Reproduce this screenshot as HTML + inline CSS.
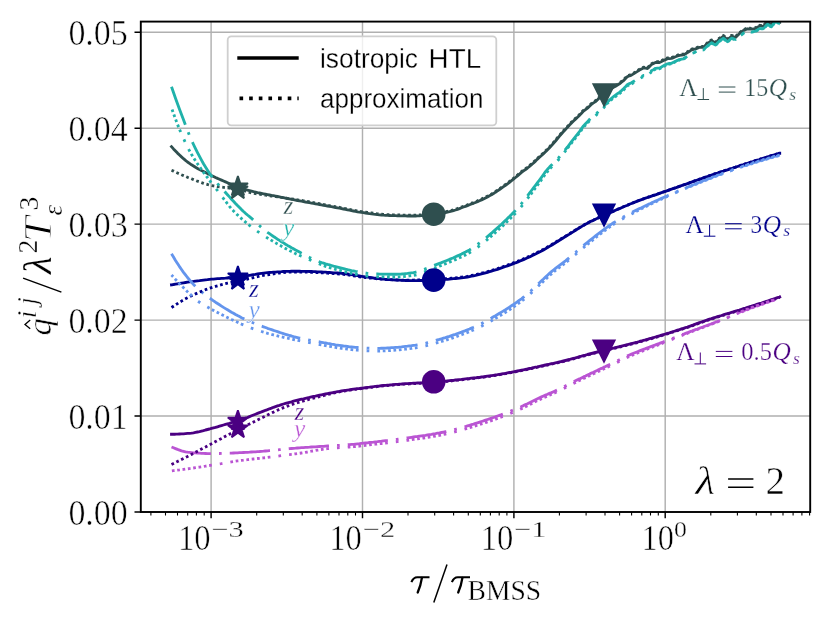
<!DOCTYPE html>
<html><head><meta charset="utf-8"><title>qhat</title>
<style>html,body{margin:0;padding:0;background:#fff;}svg{display:block;will-change:transform;}</style>
</head><body>
<svg width="830" height="623" viewBox="0 0 830 623">
<defs><clipPath id="ax"><rect x="140.8" y="21.6" width="669.4" height="490.4"/></clipPath></defs>
<rect width="830" height="623" fill="#fff"/>
<path d="M211.1,21.6 V512.0 M362.5,21.6 V512.0 M513.9,21.6 V512.0 M665.2,21.6 V512.0 M140.8,416.0 H810.2 M140.8,320.1 H810.2 M140.8,224.1 H810.2 M140.8,128.2 H810.2 M140.8,32.2 H810.2" stroke="#b0b0b0" stroke-width="1.44" fill="none"/>
<g clip-path="url(#ax)" fill="none" stroke-width="2.85" stroke-linecap="butt" stroke-linejoin="round">
<path d="M171.5,434.2 L173.5,434.2 L175.5,434.2 L177.5,434.1 L179.5,434.0 L181.5,433.9 L183.5,433.8 L185.5,433.6 L187.5,433.4 L189.5,433.3 L191.5,433.1 L193.5,432.8 L195.5,432.4 L197.5,432.0 L199.5,431.6 L201.5,431.1 L203.5,430.6 L205.5,430.0 L207.5,429.5 L209.5,429.0 L211.5,428.4 L213.5,427.9 L215.5,427.4 L217.5,426.8 L219.5,426.2 L221.5,425.6 L223.5,425.0 L225.5,424.4 L227.5,423.8 L229.5,423.3 L231.5,422.7 L233.5,422.1 L235.5,421.5 L237.5,420.9 L239.5,420.2 L241.5,419.6 L243.5,418.9 L245.5,418.2 L247.5,417.5 L249.5,416.6 L251.5,415.8 L253.5,415.0 L255.5,414.2 L257.5,413.4 L259.5,412.6 L261.5,411.9 L263.5,411.1 L265.5,410.3 L267.5,409.6 L269.5,408.8 L271.5,408.1 L273.5,407.3 L275.5,406.6 L277.5,405.9 L279.5,405.3 L281.5,404.6 L283.5,404.0 L285.5,403.4 L287.5,402.8 L289.5,402.3 L291.5,401.8 L293.5,401.2 L295.5,400.7 L297.5,400.2 L299.5,399.7 L301.5,399.2 L303.5,398.8 L305.5,398.3 L307.5,397.8 L309.5,397.4 L311.5,396.9 L313.5,396.5 L315.5,396.1 L317.5,395.6 L319.5,395.2 L321.5,394.8 L323.5,394.4 L325.5,394.0 L327.5,393.6 L329.5,393.2 L331.5,392.8 L333.5,392.5 L335.5,392.1 L337.5,391.7 L339.5,391.4 L341.5,391.0 L343.5,390.7 L345.5,390.4 L347.5,390.1 L349.5,389.8 L351.5,389.5 L353.5,389.2 L355.5,388.9 L357.5,388.7 L359.5,388.5 L361.5,388.2 L363.5,388.0 L365.5,387.7 L367.5,387.4 L369.5,387.2 L371.5,386.9 L373.5,386.7 L375.5,386.4 L377.5,386.2 L379.5,386.0 L381.5,385.7 L383.5,385.5 L385.5,385.3 L387.5,385.1 L389.5,385.0 L391.5,384.8 L393.5,384.6 L395.5,384.4 L397.5,384.3 L399.5,384.1 L401.5,384.0 L403.5,383.8 L405.5,383.7 L407.5,383.6 L409.5,383.5 L411.5,383.3 L413.5,383.2 L415.5,383.1 L417.5,383.0 L419.5,382.9 L421.5,382.8 L423.5,382.7 L425.5,382.6 L427.5,382.5 L429.5,382.4 L431.5,382.2 L433.5,382.1 L435.5,382.0 L437.5,381.9 L439.5,381.7 L441.5,381.5 L443.5,381.3 L445.5,381.1 L447.5,380.9 L449.5,380.7 L451.5,380.5 L453.5,380.3 L455.5,380.0 L457.5,379.8 L459.5,379.6 L461.5,379.4 L463.5,379.1 L465.5,378.9 L467.5,378.7 L469.5,378.5 L471.5,378.2 L473.5,378.0 L475.5,377.8 L477.5,377.5 L479.5,377.3 L481.5,377.0 L483.5,376.8 L485.5,376.5 L487.5,376.2 L489.5,375.9 L491.5,375.6 L493.5,375.3 L495.5,375.0 L497.5,374.7 L499.5,374.3 L501.5,374.0 L503.5,373.6 L505.5,373.3 L507.5,372.9 L509.5,372.5 L511.5,372.2 L513.5,371.8 L515.5,371.4 L517.5,371.0 L519.5,370.6 L521.5,370.2 L523.5,369.8 L525.5,369.4 L527.5,369.0 L529.5,368.5 L531.5,368.1 L533.5,367.6 L535.5,367.2 L537.5,366.8 L539.5,366.3 L541.5,365.9 L543.5,365.5 L545.5,365.0 L547.5,364.6 L549.5,364.2 L551.5,363.7 L553.5,363.3 L555.5,362.8 L557.5,362.4 L559.5,361.9 L561.5,361.5 L563.5,361.0 L565.5,360.5 L567.5,360.0 L569.5,359.5 L571.5,358.9 L573.5,358.4 L575.5,357.9 L577.5,357.3 L579.5,356.7 L581.5,356.2 L583.5,355.6 L585.5,355.1 L587.5,354.5 L589.5,354.0 L591.5,353.5 L593.5,353.0 L595.5,352.5 L597.5,352.0 L599.5,351.5 L601.5,351.0 L603.5,350.5 L605.5,350.0 L607.5,349.5 L609.5,349.0 L611.5,348.5 L613.5,348.1 L615.5,347.6 L617.5,347.1 L619.5,346.6 L621.5,346.1 L623.5,345.6 L625.5,345.1 L627.5,344.6 L629.5,344.1 L631.5,343.6 L633.5,343.1 L635.5,342.6 L637.5,342.1 L639.5,341.5 L641.5,341.0 L643.5,340.4 L645.5,339.9 L647.5,339.3 L649.5,338.7 L651.5,338.2 L653.5,337.6 L655.5,337.0 L657.5,336.4 L659.5,335.8 L661.5,335.2 L663.5,334.6 L665.5,334.0 L667.5,333.4 L669.5,332.8 L671.5,332.1 L673.5,331.5 L675.5,330.9 L677.5,330.2 L679.5,329.6 L681.5,328.9 L683.5,328.3 L685.5,327.6 L687.5,327.0 L689.5,326.3 L691.5,325.6 L693.5,324.9 L695.5,324.1 L697.5,323.4 L699.5,322.7 L701.5,322.0 L703.5,321.3 L705.5,320.6 L707.5,319.9 L709.5,319.2 L711.5,318.6 L713.5,317.9 L715.5,317.3 L717.5,316.7 L719.5,316.1 L721.5,315.5 L723.5,314.8 L725.5,314.2 L727.5,313.6 L729.5,313.0 L731.5,312.4 L733.5,311.8 L735.5,311.2 L737.5,310.6 L739.5,310.0 L741.5,309.3 L743.5,308.7 L745.5,308.1 L747.5,307.4 L749.5,306.8 L751.5,306.2 L753.5,305.5 L755.5,304.9 L757.5,304.2 L759.5,303.6 L761.5,303.0 L763.5,302.3 L765.5,301.7 L767.5,301.0 L769.5,300.4 L771.5,299.7 L773.5,299.0 L775.5,298.4 L777.5,297.7 L779.5,297.1 L779.7,297.0" stroke="#4b0082" stroke-linecap="square"/>
<path d="M171.5,447.0 L173.5,447.8 L175.5,448.6 L177.5,449.4 L179.5,450.1 L181.5,450.8 L183.5,451.3 L185.5,451.8 L187.5,452.2 L189.5,452.4 L191.5,452.6 L193.5,452.8 L195.5,452.9 L197.5,453.1 L199.5,453.2 L201.5,453.3 L203.5,453.4 L205.5,453.5 L207.5,453.6 L209.5,453.6 L211.5,453.6 L213.5,453.6 L215.5,453.6 L217.5,453.5 L219.5,453.5 L221.5,453.4 L223.5,453.3 L225.5,453.3 L227.5,453.2 L229.5,453.1 L231.5,453.1 L233.5,453.0 L235.5,452.9 L237.5,452.8 L239.5,452.7 L241.5,452.6 L243.5,452.5 L245.5,452.4 L247.5,452.3 L249.5,452.2 L251.5,452.0 L253.5,451.9 L255.5,451.8 L257.5,451.6 L259.5,451.5 L261.5,451.3 L263.5,451.2 L265.5,451.0 L267.5,450.9 L269.5,450.7 L271.5,450.6 L273.5,450.4 L275.5,450.2 L277.5,449.9 L279.5,449.7 L281.5,449.5 L283.5,449.3 L285.5,449.1 L287.5,448.9 L289.5,448.7 L291.5,448.5 L293.5,448.3 L295.5,448.2 L297.5,448.0 L299.5,447.9 L301.5,447.7 L303.5,447.6 L305.5,447.4 L307.5,447.3 L309.5,447.2 L311.5,447.0 L313.5,446.9 L315.5,446.8 L317.5,446.6 L319.5,446.5 L321.5,446.4 L323.5,446.3 L325.5,446.1 L327.5,446.0 L329.5,445.9 L331.5,445.7 L333.5,445.6 L335.5,445.5 L337.5,445.4 L339.5,445.3 L341.5,445.2 L343.5,445.0 L345.5,444.9 L347.5,444.8 L349.5,444.6 L351.5,444.4 L353.5,444.3 L355.5,444.1 L357.5,443.9 L359.5,443.7 L361.5,443.4 L363.5,443.2 L365.5,443.0 L367.5,442.8 L369.5,442.5 L371.5,442.3 L373.5,442.1 L375.5,441.8 L377.5,441.6 L379.5,441.3 L381.5,441.1 L383.5,440.8 L385.5,440.6 L387.5,440.4 L389.5,440.1 L391.5,439.9 L393.5,439.7 L395.5,439.4 L397.5,439.2 L399.5,438.9 L401.5,438.7 L403.5,438.4 L405.5,438.1 L407.5,437.9 L409.5,437.6 L411.5,437.3 L413.5,437.0 L415.5,436.7 L417.5,436.5 L419.5,436.2 L421.5,435.9 L423.5,435.6 L425.5,435.3 L427.5,434.9 L429.5,434.6 L431.5,434.3 L433.5,433.9 L435.5,433.6 L437.5,433.2 L439.5,432.9 L441.5,432.5 L443.5,432.1 L445.5,431.7 L447.5,431.3 L449.5,430.8 L451.5,430.4 L453.5,429.9 L455.5,429.3 L457.5,428.8 L459.5,428.2 L461.5,427.6 L463.5,427.1 L465.5,426.5 L467.5,425.9 L469.5,425.3 L471.5,424.7 L473.5,424.1 L475.5,423.4 L477.5,422.8 L479.5,422.2 L481.5,421.5 L483.5,420.9 L485.5,420.2 L487.5,419.5 L489.5,418.8 L491.5,418.2 L493.5,417.5 L495.5,416.8 L497.5,416.0 L499.5,415.3 L501.5,414.6 L503.5,413.8 L505.5,413.1 L507.5,412.3 L509.5,411.5 L511.5,410.7 L513.5,409.9 L515.5,409.1 L517.5,408.2 L519.5,407.3 L521.5,406.5 L523.5,405.6 L525.5,404.6 L527.5,403.7 L529.5,402.7 L531.5,401.7 L533.5,400.7 L535.5,399.7 L537.5,398.7 L539.5,397.8 L541.5,396.9 L543.5,396.0 L545.5,395.1 L547.5,394.3 L549.5,393.4 L551.5,392.6 L553.5,391.7 L555.5,390.8 L557.5,389.9 L559.5,389.0 L561.5,388.0 L563.5,387.0 L565.5,385.9 L567.5,384.9 L569.5,383.8 L571.5,382.8 L573.5,381.8 L575.5,380.8 L577.5,379.8 L579.5,378.9 L581.5,377.9 L583.5,376.9 L585.5,376.0 L587.5,375.0 L589.5,374.1 L591.5,373.1 L593.5,372.2 L595.5,371.2 L597.5,370.3 L599.5,369.3 L601.5,368.4 L603.5,367.4 L605.5,366.5 L607.5,365.5 L609.5,364.6 L611.5,363.6 L613.5,362.6 L615.5,361.7 L617.5,360.7 L619.5,359.7 L621.5,358.7 L623.5,357.7 L625.5,356.8 L627.5,355.9 L629.5,355.0 L631.5,354.1 L633.5,353.3 L635.5,352.5 L637.5,351.7 L639.5,350.9 L641.5,350.1 L643.5,349.3 L645.5,348.6 L647.5,347.8 L649.5,347.1 L651.5,346.3 L653.5,345.6 L655.5,344.9 L657.5,344.1 L659.5,343.4 L661.5,342.6 L663.5,341.9 L665.5,341.1 L667.5,340.3 L669.5,339.6 L671.5,338.8 L673.5,338.0 L675.5,337.3 L677.5,336.5 L679.5,335.7 L681.5,334.9 L683.5,334.2 L685.5,333.4 L687.5,332.7 L689.5,331.9 L691.5,331.2 L693.5,330.4 L695.5,329.7 L697.5,329.0 L699.5,328.2 L701.5,327.5 L703.5,326.8 L705.5,326.0 L707.5,325.3 L709.5,324.5 L711.5,323.8 L713.5,323.0 L715.5,322.2 L717.5,321.5 L719.5,320.7 L721.5,319.9 L723.5,319.1 L725.5,318.2 L727.5,317.3 L729.5,316.5 L731.5,315.6 L733.5,314.7 L735.5,313.9 L737.5,313.0 L739.5,312.2 L741.5,311.5 L743.5,310.7 L745.5,309.9 L747.5,309.2 L749.5,308.4 L751.5,307.7 L753.5,306.9 L755.5,306.2 L757.5,305.5 L759.5,304.8 L761.5,304.1 L763.5,303.4 L765.5,302.7 L767.5,302.0 L769.5,301.3 L771.5,300.7 L773.5,300.0 L775.5,299.4 L777.5,298.8 L779.5,298.2 L779.7,298.1" stroke="#ba55d3" stroke-dasharray="40.35 8.07 2.69 8.07"/>
<path d="M171.5,464.5 L173.5,463.5 L175.5,462.5 L177.5,461.5 L179.5,460.5 L181.5,459.5 L183.5,458.5 L185.5,457.5 L187.5,456.5 L189.5,455.4 L191.5,454.4 L193.5,453.4 L195.5,452.3 L197.5,451.2 L199.5,450.2 L201.5,449.1 L203.5,448.0 L205.5,447.0 L207.5,445.9 L209.5,444.8 L211.5,443.8 L213.5,442.7 L215.5,441.6 L217.5,440.5 L219.5,439.4 L221.5,438.4 L223.5,437.3 L225.5,436.2 L227.5,435.2 L229.5,434.2 L231.5,433.2 L233.5,432.2 L235.5,431.2 L237.5,430.1 L239.5,429.1 L241.5,428.1 L243.5,427.1 L245.5,426.1 L247.5,425.0 L249.5,424.0 L251.5,423.0 L253.5,422.0 L255.5,421.0 L257.5,420.0 L259.5,419.0 L261.5,418.1 L263.5,417.1 L265.5,416.1 L267.5,415.0 L269.5,414.0 L271.5,413.0 L273.5,412.1 L275.5,411.1 L277.5,410.2 L279.5,409.3 L281.5,408.4 L283.5,407.6 L285.5,406.9 L287.5,406.1 L289.5,405.4 L291.5,404.7 L293.5,404.0 L295.5,403.3 L297.5,402.7 L299.5,402.1 L301.5,401.5 L303.5,400.9 L305.5,400.3 L307.5,399.8 L309.5,399.2 L311.5,398.7 L313.5,398.2 L315.5,397.8 L317.5,397.3 L319.5,396.7 L321.5,396.2 L323.5,395.6 L325.5,395.1 L327.5,394.6 L329.5,394.1 L331.5,393.6 L333.5,393.1 L335.5,392.6 L337.5,392.2 L339.5,391.8 L341.5,391.4 L343.5,391.1 L345.5,390.8 L347.5,390.5 L349.5,390.2 L351.5,389.9 L353.5,389.6 L355.5,389.3 L357.5,389.1 L359.5,388.9 L361.5,388.6 L363.5,388.4 L365.5,388.1 L367.5,387.8 L369.5,387.6 L371.5,387.3 L373.5,387.1 L375.5,386.8 L377.5,386.6 L379.5,386.4 L381.5,386.1 L383.5,385.9 L385.5,385.7 L387.5,385.5 L389.5,385.4 L391.5,385.2 L393.5,385.0 L395.5,384.8 L397.5,384.7 L399.5,384.5 L401.5,384.4 L403.5,384.2 L405.5,384.1 L407.5,384.0 L409.5,383.9 L411.5,383.7 L413.5,383.6 L415.5,383.5 L417.5,383.4 L419.5,383.3 L421.5,383.2 L423.5,383.1 L425.5,383.0 L427.5,382.9 L429.5,382.8 L431.5,382.6 L433.5,382.5 L435.5,382.4 L437.5,382.3 L439.5,382.1 L441.5,381.9 L443.5,381.7 L445.5,381.5 L447.5,381.3 L449.5,381.1 L451.5,380.9 L453.5,380.7 L455.5,380.4 L457.5,380.2 L459.5,380.0 L461.5,379.8 L463.5,379.5 L465.5,379.3 L467.5,379.1 L469.5,378.9 L471.5,378.6 L473.5,378.4 L475.5,378.2 L477.5,377.9 L479.5,377.7 L481.5,377.4 L483.5,377.2 L485.5,376.9 L487.5,376.6 L489.5,376.3 L491.5,376.0 L493.5,375.7 L495.5,375.4 L497.5,375.1 L499.5,374.7 L501.5,374.4 L503.5,374.0 L505.5,373.7 L507.5,373.3 L509.5,372.9 L511.5,372.6 L513.5,372.2 L515.5,371.8 L517.5,371.4 L519.5,371.0 L521.5,370.6 L523.5,370.2 L525.5,369.8 L527.5,369.4 L529.5,368.9 L531.5,368.5 L533.5,368.0 L535.5,367.6 L537.5,367.2 L539.5,366.7 L541.5,366.3 L543.5,365.9 L545.5,365.4 L547.5,365.0 L549.5,364.6 L551.5,364.1 L553.5,363.7 L555.5,363.2 L557.5,362.8 L559.5,362.3 L561.5,361.9 L563.5,361.4 L565.5,360.9 L567.5,360.4 L569.5,359.9 L571.5,359.3 L573.5,358.8 L575.5,358.3 L577.5,357.7 L579.5,357.1 L581.5,356.6 L583.5,356.0 L585.5,355.5 L587.5,354.9 L589.5,354.4 L591.5,353.9 L593.5,353.4 L595.5,352.9 L597.5,352.4 L599.5,351.9 L601.5,351.4 L603.5,350.9 L605.5,350.4 L607.5,349.9 L609.5,349.4 L611.5,348.9 L613.5,348.5 L615.5,348.0 L617.5,347.5 L619.5,347.0 L621.5,346.5 L623.5,346.0 L625.5,345.5 L627.5,345.0 L629.5,344.5 L631.5,344.0 L633.5,343.5 L635.5,343.0 L637.5,342.5 L639.5,341.9 L641.5,341.4 L643.5,340.8 L645.5,340.3 L647.5,339.7 L649.5,339.1 L651.5,338.6 L653.5,338.0 L655.5,337.4 L657.5,336.8 L659.5,336.2 L661.5,335.6 L663.5,335.0 L665.5,334.4 L667.5,333.8 L669.5,333.2 L671.5,332.5 L673.5,331.9 L675.5,331.3 L677.5,330.6 L679.5,330.0 L681.5,329.3 L683.5,328.7 L685.5,328.0 L687.5,327.4 L689.5,326.7 L691.5,326.0 L693.5,325.3 L695.5,324.5 L697.5,323.8 L699.5,323.1 L701.5,322.4 L703.5,321.7 L705.5,321.0 L707.5,320.3 L709.5,319.6 L711.5,319.0 L713.5,318.3 L715.5,317.7 L717.5,317.1 L719.5,316.5 L721.5,315.9 L723.5,315.2 L725.5,314.6 L727.5,314.0 L729.5,313.4 L731.5,312.8 L733.5,312.2 L735.5,311.6 L737.5,311.0 L739.5,310.4 L741.5,309.7 L743.5,309.1 L745.5,308.5 L747.5,307.8 L749.5,307.2 L751.5,306.6 L753.5,305.9 L755.5,305.3 L757.5,304.6 L759.5,304.0 L761.5,303.4 L763.5,302.7 L765.5,302.1 L767.5,301.4 L769.5,300.8 L771.5,300.1 L773.5,299.4 L775.5,298.8 L777.5,298.1 L779.5,297.5 L779.7,297.4" stroke="#4b0082" stroke-dasharray="2.69 2.69"/>
<path d="M171.5,470.9 L173.5,470.6 L175.5,470.4 L177.5,470.1 L179.5,469.9 L181.5,469.6 L183.5,469.4 L185.5,469.1 L187.5,468.8 L189.5,468.6 L191.5,468.3 L193.5,468.0 L195.5,467.7 L197.5,467.4 L199.5,467.1 L201.5,466.8 L203.5,466.5 L205.5,466.2 L207.5,465.8 L209.5,465.5 L211.5,465.2 L213.5,464.9 L215.5,464.6 L217.5,464.3 L219.5,463.9 L221.5,463.6 L223.5,463.2 L225.5,462.9 L227.5,462.5 L229.5,462.2 L231.5,461.8 L233.5,461.5 L235.5,461.2 L237.5,460.9 L239.5,460.7 L241.5,460.4 L243.5,460.2 L245.5,459.9 L247.5,459.7 L249.5,459.4 L251.5,459.2 L253.5,459.0 L255.5,458.8 L257.5,458.5 L259.5,458.3 L261.5,458.1 L263.5,457.9 L265.5,457.7 L267.5,457.5 L269.5,457.2 L271.5,457.0 L273.5,456.7 L275.5,456.4 L277.5,456.2 L279.5,455.9 L281.5,455.6 L283.5,455.4 L285.5,455.1 L287.5,454.8 L289.5,454.6 L291.5,454.3 L293.5,454.1 L295.5,453.8 L297.5,453.5 L299.5,453.3 L301.5,453.0 L303.5,452.7 L305.5,452.3 L307.5,452.0 L309.5,451.6 L311.5,451.2 L313.5,450.9 L315.5,450.5 L317.5,450.1 L319.5,449.8 L321.5,449.5 L323.5,449.2 L325.5,448.9 L327.5,448.7 L329.5,448.4 L331.5,448.2 L333.5,448.1 L335.5,447.9 L337.5,447.8 L339.5,447.7 L341.5,447.6 L343.5,447.4 L345.5,447.3 L347.5,447.2 L349.5,447.0 L351.5,446.8 L353.5,446.7 L355.5,446.5 L357.5,446.3 L359.5,446.1 L361.5,445.8 L363.5,445.6 L365.5,445.4 L367.5,445.2 L369.5,444.9 L371.5,444.7 L373.5,444.5 L375.5,444.2 L377.5,444.0 L379.5,443.7 L381.5,443.5 L383.5,443.2 L385.5,443.0 L387.5,442.8 L389.5,442.5 L391.5,442.3 L393.5,442.1 L395.5,441.8 L397.5,441.6 L399.5,441.3 L401.5,441.1 L403.5,440.8 L405.5,440.5 L407.5,440.3 L409.5,440.0 L411.5,439.7 L413.5,439.4 L415.5,439.1 L417.5,438.9 L419.5,438.6 L421.5,438.3 L423.5,438.0 L425.5,437.7 L427.5,437.3 L429.5,437.0 L431.5,436.7 L433.5,436.3 L435.5,436.0 L437.5,435.6 L439.5,435.3 L441.5,434.9 L443.5,434.5 L445.5,434.1 L447.5,433.7 L449.5,433.2 L451.5,432.8 L453.5,432.3 L455.5,431.7 L457.5,431.2 L459.5,430.6 L461.5,430.0 L463.5,429.5 L465.5,428.9 L467.5,428.3 L469.5,427.7 L471.5,427.1 L473.5,426.5 L475.5,425.8 L477.5,425.2 L479.5,424.6 L481.5,423.9 L483.5,423.3 L485.5,422.6 L487.5,421.9 L489.5,421.2 L491.5,420.6 L493.5,419.9 L495.5,419.2 L497.5,418.4 L499.5,417.7 L501.5,417.0 L503.5,416.2 L505.5,415.4 L507.5,414.6 L509.5,413.8 L511.5,413.0 L513.5,412.1 L515.5,411.3 L517.5,410.4 L519.5,409.5 L521.5,408.6 L523.5,407.7 L525.5,406.7 L527.5,405.7 L529.5,404.7 L531.5,403.7 L533.5,402.7 L535.5,401.6 L537.5,400.6 L539.5,399.7 L541.5,398.7 L543.5,397.8 L545.5,396.9 L547.5,396.0 L549.5,395.2 L551.5,394.3 L553.5,393.4 L555.5,392.5 L557.5,391.5 L559.5,390.6 L561.5,389.6 L563.5,388.6 L565.5,387.5 L567.5,386.5 L569.5,385.4 L571.5,384.4 L573.5,383.4 L575.5,382.4 L577.5,381.4 L579.5,380.5 L581.5,379.5 L583.5,378.5 L585.5,377.6 L587.5,376.6 L589.5,375.7 L591.5,374.7 L593.5,373.8 L595.5,372.8 L597.5,371.9 L599.5,370.9 L601.5,370.0 L603.5,369.0 L605.5,368.1 L607.5,367.1 L609.5,366.2 L611.5,365.2 L613.5,364.2 L615.5,363.3 L617.5,362.3 L619.5,361.3 L621.5,360.3 L623.5,359.3 L625.5,358.3 L627.5,357.3 L629.5,356.4 L631.5,355.6 L633.5,354.7 L635.5,353.8 L637.5,353.0 L639.5,352.2 L641.5,351.4 L643.5,350.6 L645.5,349.8 L647.5,349.0 L649.5,348.2 L651.5,347.5 L653.5,346.7 L655.5,345.9 L657.5,345.2 L659.5,344.4 L661.5,343.6 L663.5,342.8 L665.5,342.0 L667.5,341.2 L669.5,340.4 L671.5,339.6 L673.5,338.8 L675.5,338.0 L677.5,337.2 L679.5,336.4 L681.5,335.6 L683.5,334.8 L685.5,334.0 L687.5,333.3 L689.5,332.5 L691.5,331.7 L693.5,330.9 L695.5,330.2 L697.5,329.4 L699.5,328.6 L701.5,327.9 L703.5,327.2 L705.5,326.4 L707.5,325.7 L709.5,324.9 L711.5,324.2 L713.5,323.4 L715.5,322.6 L717.5,321.9 L719.5,321.1 L721.5,320.3 L723.5,319.5 L725.5,318.6 L727.5,317.7 L729.5,316.9 L731.5,316.0 L733.5,315.1 L735.5,314.3 L737.5,313.4 L739.5,312.6 L741.5,311.9 L743.5,311.1 L745.5,310.3 L747.5,309.6 L749.5,308.8 L751.5,308.1 L753.5,307.3 L755.5,306.6 L757.5,305.9 L759.5,305.2 L761.5,304.5 L763.5,303.8 L765.5,303.1 L767.5,302.4 L769.5,301.7 L771.5,301.1 L773.5,300.4 L775.5,299.8 L777.5,299.2 L779.5,298.6 L779.7,298.5" stroke="#ba55d3" stroke-dasharray="2.69 2.69 2.69 2.69 2.69 2.69 2.69 2.69 2.69 2.69 2.69 2.69 2.69 2.69 2.69 8.07 2.69 8.07" stroke-dashoffset="58.8"/>
<path d="M171.5,284.8 L173.5,284.5 L175.5,284.1 L177.5,283.8 L179.5,283.5 L181.5,283.1 L183.5,282.8 L185.5,282.5 L187.5,282.2 L189.5,281.9 L191.5,281.6 L193.5,281.4 L195.5,281.1 L197.5,280.8 L199.5,280.6 L201.5,280.3 L203.5,280.1 L205.5,279.9 L207.5,279.7 L209.5,279.4 L211.5,279.2 L213.5,279.1 L215.5,278.9 L217.5,278.7 L219.5,278.6 L221.5,278.4 L223.5,278.3 L225.5,278.2 L227.5,278.0 L229.5,277.9 L231.5,277.7 L233.5,277.6 L235.5,277.4 L237.5,277.2 L239.5,277.0 L241.5,276.7 L243.5,276.4 L245.5,276.1 L247.5,275.7 L249.5,275.3 L251.5,275.0 L253.5,274.6 L255.5,274.3 L257.5,273.9 L259.5,273.6 L261.5,273.3 L263.5,273.1 L265.5,272.9 L267.5,272.7 L269.5,272.5 L271.5,272.4 L273.5,272.2 L275.5,272.1 L277.5,271.9 L279.5,271.8 L281.5,271.7 L283.5,271.5 L285.5,271.4 L287.5,271.4 L289.5,271.3 L291.5,271.2 L293.5,271.2 L295.5,271.2 L297.5,271.2 L299.5,271.2 L301.5,271.3 L303.5,271.3 L305.5,271.3 L307.5,271.4 L309.5,271.5 L311.5,271.5 L313.5,271.6 L315.5,271.7 L317.5,271.8 L319.5,271.9 L321.5,272.0 L323.5,272.1 L325.5,272.2 L327.5,272.4 L329.5,272.5 L331.5,272.6 L333.5,272.8 L335.5,272.9 L337.5,273.0 L339.5,273.2 L341.5,273.3 L343.5,273.5 L345.5,273.8 L347.5,274.0 L349.5,274.4 L351.5,274.7 L353.5,275.0 L355.5,275.4 L357.5,275.7 L359.5,276.0 L361.5,276.3 L363.5,276.6 L365.5,276.9 L367.5,277.1 L369.5,277.4 L371.5,277.7 L373.5,278.0 L375.5,278.2 L377.5,278.5 L379.5,278.7 L381.5,278.9 L383.5,279.1 L385.5,279.3 L387.5,279.5 L389.5,279.6 L391.5,279.7 L393.5,279.9 L395.5,280.0 L397.5,280.1 L399.5,280.2 L401.5,280.3 L403.5,280.4 L405.5,280.5 L407.5,280.5 L409.5,280.6 L411.5,280.6 L413.5,280.6 L415.5,280.6 L417.5,280.6 L419.5,280.5 L421.5,280.5 L423.5,280.4 L425.5,280.4 L427.5,280.3 L429.5,280.3 L431.5,280.2 L433.5,280.1 L435.5,280.0 L437.5,279.9 L439.5,279.8 L441.5,279.7 L443.5,279.6 L445.5,279.4 L447.5,279.3 L449.5,279.1 L451.5,278.9 L453.5,278.7 L455.5,278.5 L457.5,278.3 L459.5,278.1 L461.5,277.8 L463.5,277.6 L465.5,277.3 L467.5,277.0 L469.5,276.6 L471.5,276.2 L473.5,275.8 L475.5,275.4 L477.5,274.9 L479.5,274.4 L481.5,273.9 L483.5,273.4 L485.5,272.8 L487.5,272.3 L489.5,271.7 L491.5,271.1 L493.5,270.5 L495.5,269.9 L497.5,269.3 L499.5,268.6 L501.5,267.9 L503.5,267.2 L505.5,266.5 L507.5,265.8 L509.5,265.1 L511.5,264.4 L513.5,263.6 L515.5,262.8 L517.5,262.1 L519.5,261.2 L521.5,260.4 L523.5,259.6 L525.5,258.7 L527.5,257.8 L529.5,256.9 L531.5,255.9 L533.5,255.0 L535.5,254.0 L537.5,253.0 L539.5,252.0 L541.5,251.0 L543.5,249.9 L545.5,248.8 L547.5,247.6 L549.5,246.4 L551.5,245.2 L553.5,244.0 L555.5,242.7 L557.5,241.5 L559.5,240.2 L561.5,239.0 L563.5,237.7 L565.5,236.5 L567.5,235.3 L569.5,234.1 L571.5,232.8 L573.5,231.6 L575.5,230.3 L577.5,229.0 L579.5,227.8 L581.5,226.6 L583.5,225.4 L585.5,224.3 L587.5,223.2 L589.5,222.1 L591.5,221.1 L593.5,220.2 L595.5,219.2 L597.5,218.3 L599.5,217.4 L601.5,216.5 L603.5,215.6 L605.5,214.7 L607.5,213.8 L609.5,212.9 L611.5,212.1 L613.5,211.2 L615.5,210.3 L617.5,209.4 L619.5,208.6 L621.5,207.7 L623.5,206.8 L625.5,206.0 L627.5,205.2 L629.5,204.3 L631.5,203.5 L633.5,202.7 L635.5,201.9 L637.5,201.1 L639.5,200.3 L641.5,199.6 L643.5,198.9 L645.5,198.2 L647.5,197.5 L649.5,196.8 L651.5,196.1 L653.5,195.4 L655.5,194.8 L657.5,194.1 L659.5,193.4 L661.5,192.7 L663.5,192.0 L665.5,191.3 L667.5,190.6 L669.5,189.9 L671.5,189.2 L673.5,188.5 L675.5,187.8 L677.5,187.1 L679.5,186.4 L681.5,185.7 L683.5,185.0 L685.5,184.3 L687.5,183.6 L689.5,182.9 L691.5,182.1 L693.5,181.4 L695.5,180.7 L697.5,180.0 L699.5,179.3 L701.5,178.6 L703.5,177.9 L705.5,177.2 L707.5,176.5 L709.5,175.8 L711.5,175.1 L713.5,174.4 L715.5,173.7 L717.5,173.1 L719.5,172.4 L721.5,171.7 L723.5,171.1 L725.5,170.4 L727.5,169.8 L729.5,169.1 L731.5,168.5 L733.5,167.8 L735.5,167.2 L737.5,166.5 L739.5,165.9 L741.5,165.2 L743.5,164.6 L745.5,163.9 L747.5,163.3 L749.5,162.7 L751.5,162.0 L753.5,161.4 L755.5,160.7 L757.5,160.1 L759.5,159.5 L761.5,158.8 L763.5,158.2 L765.5,157.6 L767.5,156.9 L769.5,156.3 L771.5,155.7 L773.5,155.1 L775.5,154.5 L777.5,153.8 L779.5,153.2 L779.7,153.2" stroke="#00008b" stroke-linecap="square"/>
<path d="M171.5,253.8 L173.5,257.1 L175.5,260.4 L177.5,263.5 L179.5,266.6 L181.5,269.5 L183.5,272.3 L185.5,274.9 L187.5,277.5 L189.5,279.9 L191.5,282.2 L193.5,284.4 L195.5,286.4 L197.5,288.3 L199.5,290.1 L201.5,291.8 L203.5,293.4 L205.5,295.0 L207.5,296.5 L209.5,298.0 L211.5,299.4 L213.5,300.8 L215.5,302.2 L217.5,303.5 L219.5,304.8 L221.5,306.1 L223.5,307.4 L225.5,308.6 L227.5,309.8 L229.5,311.0 L231.5,312.2 L233.5,313.3 L235.5,314.5 L237.5,315.6 L239.5,316.6 L241.5,317.7 L243.5,318.6 L245.5,319.6 L247.5,320.5 L249.5,321.4 L251.5,322.2 L253.5,323.0 L255.5,323.8 L257.5,324.6 L259.5,325.3 L261.5,326.1 L263.5,326.8 L265.5,327.5 L267.5,328.3 L269.5,329.0 L271.5,329.7 L273.5,330.4 L275.5,331.0 L277.5,331.7 L279.5,332.4 L281.5,333.0 L283.5,333.7 L285.5,334.3 L287.5,334.9 L289.5,335.5 L291.5,336.0 L293.5,336.6 L295.5,337.1 L297.5,337.6 L299.5,338.1 L301.5,338.5 L303.5,338.9 L305.5,339.3 L307.5,339.7 L309.5,340.1 L311.5,340.5 L313.5,340.8 L315.5,341.2 L317.5,341.6 L319.5,341.9 L321.5,342.3 L323.5,342.7 L325.5,343.0 L327.5,343.4 L329.5,343.7 L331.5,344.1 L333.5,344.4 L335.5,344.8 L337.5,345.1 L339.5,345.4 L341.5,345.7 L343.5,346.0 L345.5,346.2 L347.5,346.5 L349.5,346.8 L351.5,347.0 L353.5,347.2 L355.5,347.4 L357.5,347.5 L359.5,347.7 L361.5,347.8 L363.5,347.9 L365.5,348.0 L367.5,348.1 L369.5,348.2 L371.5,348.2 L373.5,348.3 L375.5,348.3 L377.5,348.3 L379.5,348.3 L381.5,348.2 L383.5,348.2 L385.5,348.1 L387.5,348.0 L389.5,347.9 L391.5,347.7 L393.5,347.6 L395.5,347.4 L397.5,347.3 L399.5,347.1 L401.5,346.9 L403.5,346.6 L405.5,346.4 L407.5,346.2 L409.5,345.9 L411.5,345.7 L413.5,345.4 L415.5,345.2 L417.5,344.9 L419.5,344.6 L421.5,344.2 L423.5,343.7 L425.5,343.3 L427.5,342.7 L429.5,342.2 L431.5,341.6 L433.5,341.1 L435.5,340.5 L437.5,339.9 L439.5,339.4 L441.5,338.8 L443.5,338.2 L445.5,337.6 L447.5,336.9 L449.5,336.3 L451.5,335.6 L453.5,334.9 L455.5,334.3 L457.5,333.5 L459.5,332.8 L461.5,332.1 L463.5,331.3 L465.5,330.6 L467.5,329.8 L469.5,329.0 L471.5,328.1 L473.5,327.3 L475.5,326.4 L477.5,325.5 L479.5,324.5 L481.5,323.5 L483.5,322.4 L485.5,321.3 L487.5,320.2 L489.5,319.1 L491.5,318.0 L493.5,316.8 L495.5,315.7 L497.5,314.5 L499.5,313.3 L501.5,312.1 L503.5,310.9 L505.5,309.7 L507.5,308.4 L509.5,307.1 L511.5,305.8 L513.5,304.5 L515.5,303.1 L517.5,301.7 L519.5,300.2 L521.5,298.8 L523.5,297.2 L525.5,295.6 L527.5,293.9 L529.5,292.1 L531.5,290.3 L533.5,288.4 L535.5,286.5 L537.5,284.6 L539.5,282.7 L541.5,280.8 L543.5,279.0 L545.5,277.1 L547.5,275.2 L549.5,273.4 L551.5,271.7 L553.5,270.0 L555.5,268.4 L557.5,266.8 L559.5,265.3 L561.5,263.8 L563.5,262.3 L565.5,260.8 L567.5,259.2 L569.5,257.6 L571.5,256.0 L573.5,254.2 L575.5,252.5 L577.5,250.7 L579.5,248.9 L581.5,247.2 L583.5,245.6 L585.5,243.9 L587.5,242.3 L589.5,240.7 L591.5,239.1 L593.5,237.5 L595.5,235.9 L597.5,234.3 L599.5,232.8 L601.5,231.3 L603.5,229.8 L605.5,228.3 L607.5,226.9 L609.5,225.5 L611.5,224.1 L613.5,222.8 L615.5,221.6 L617.5,220.4 L619.5,219.2 L621.5,218.0 L623.5,216.9 L625.5,215.8 L627.5,214.8 L629.5,213.7 L631.5,212.7 L633.5,211.6 L635.5,210.6 L637.5,209.6 L639.5,208.6 L641.5,207.7 L643.5,206.7 L645.5,205.7 L647.5,204.8 L649.5,203.9 L651.5,202.9 L653.5,202.0 L655.5,201.1 L657.5,200.2 L659.5,199.3 L661.5,198.4 L663.5,197.5 L665.5,196.6 L667.5,195.7 L669.5,194.8 L671.5,194.0 L673.5,193.1 L675.5,192.2 L677.5,191.4 L679.5,190.5 L681.5,189.7 L683.5,188.9 L685.5,188.0 L687.5,187.2 L689.5,186.4 L691.5,185.6 L693.5,184.8 L695.5,184.0 L697.5,183.1 L699.5,182.3 L701.5,181.5 L703.5,180.7 L705.5,179.9 L707.5,179.2 L709.5,178.4 L711.5,177.6 L713.5,176.8 L715.5,176.0 L717.5,175.3 L719.5,174.5 L721.5,173.8 L723.5,173.0 L725.5,172.3 L727.5,171.5 L729.5,170.8 L731.5,170.1 L733.5,169.4 L735.5,168.7 L737.5,168.0 L739.5,167.3 L741.5,166.6 L743.5,166.0 L745.5,165.3 L747.5,164.7 L749.5,164.0 L751.5,163.4 L753.5,162.7 L755.5,162.1 L757.5,161.5 L759.5,160.9 L761.5,160.3 L763.5,159.7 L765.5,159.1 L767.5,158.5 L769.5,157.9 L771.5,157.3 L773.5,156.7 L775.5,156.2 L777.5,155.6 L779.5,155.1 L779.7,155.0" stroke="#6495ed" stroke-dasharray="40.35 8.07 2.69 8.07"/>
<path d="M171.5,307.5 L173.5,306.2 L175.5,304.9 L177.5,303.6 L179.5,302.3 L181.5,301.1 L183.5,299.9 L185.5,298.8 L187.5,297.8 L189.5,296.8 L191.5,295.8 L193.5,294.8 L195.5,293.9 L197.5,293.0 L199.5,292.1 L201.5,291.3 L203.5,290.5 L205.5,289.7 L207.5,289.0 L209.5,288.3 L211.5,287.6 L213.5,287.0 L215.5,286.4 L217.5,285.8 L219.5,285.3 L221.5,284.7 L223.5,284.2 L225.5,283.7 L227.5,283.2 L229.5,282.8 L231.5,282.3 L233.5,281.9 L235.5,281.5 L237.5,281.1 L239.5,280.7 L241.5,280.3 L243.5,279.9 L245.5,279.5 L247.5,279.0 L249.5,278.6 L251.5,278.1 L253.5,277.6 L255.5,277.1 L257.5,276.7 L259.5,276.2 L261.5,275.8 L263.5,275.4 L265.5,275.1 L267.5,274.8 L269.5,274.5 L271.5,274.2 L273.5,273.9 L275.5,273.6 L277.5,273.2 L279.5,273.0 L281.5,272.7 L283.5,272.5 L285.5,272.3 L287.5,272.2 L289.5,272.1 L291.5,272.0 L293.5,272.0 L295.5,272.0 L297.5,272.0 L299.5,272.0 L301.5,272.1 L303.5,272.1 L305.5,272.1 L307.5,272.2 L309.5,272.3 L311.5,272.3 L313.5,272.4 L315.5,272.5 L317.5,272.6 L319.5,272.7 L321.5,272.8 L323.5,272.9 L325.5,273.0 L327.5,273.2 L329.5,273.3 L331.5,273.4 L333.5,273.6 L335.5,273.7 L337.5,273.8 L339.5,274.0 L341.5,274.1 L343.5,274.3 L345.5,274.6 L347.5,274.8 L349.5,275.2 L351.5,275.5 L353.5,275.8 L355.5,276.2 L357.5,276.5 L359.5,276.8 L361.5,277.1 L363.5,277.3 L365.5,277.5 L367.5,277.8 L369.5,278.0 L371.5,278.2 L373.5,278.4 L375.5,278.6 L377.5,278.8 L379.5,279.0 L381.5,279.2 L383.5,279.4 L385.5,279.5 L387.5,279.6 L389.5,279.7 L391.5,279.8 L393.5,279.8 L395.5,279.9 L397.5,280.0 L399.5,280.0 L401.5,280.1 L403.5,280.1 L405.5,280.1 L407.5,280.1 L409.5,280.1 L411.5,280.1 L413.5,280.1 L415.5,280.0 L417.5,279.9 L419.5,279.9 L421.5,279.8 L423.5,279.7 L425.5,279.7 L427.5,279.6 L429.5,279.6 L431.5,279.5 L433.5,279.4 L435.5,279.3 L437.5,279.2 L439.5,279.1 L441.5,279.0 L443.5,278.9 L445.5,278.7 L447.5,278.6 L449.5,278.4 L451.5,278.2 L453.5,278.0 L455.5,277.8 L457.5,277.6 L459.5,277.4 L461.5,277.1 L463.5,276.9 L465.5,276.6 L467.5,276.3 L469.5,275.9 L471.5,275.5 L473.5,275.1 L475.5,274.7 L477.5,274.2 L479.5,273.7 L481.5,273.2 L483.5,272.7 L485.5,272.1 L487.5,271.6 L489.5,271.0 L491.5,270.4 L493.5,269.8 L495.5,269.2 L497.5,268.6 L499.5,267.9 L501.5,267.2 L503.5,266.5 L505.5,265.8 L507.5,265.1 L509.5,264.4 L511.5,263.7 L513.5,262.9 L515.5,262.1 L517.5,261.4 L519.5,260.5 L521.5,259.7 L523.5,258.9 L525.5,258.0 L527.5,257.1 L529.5,256.2 L531.5,255.2 L533.5,254.3 L535.5,253.3 L537.5,252.3 L539.5,251.3 L541.5,250.3 L543.5,249.3 L545.5,248.2 L547.5,247.0 L549.5,245.9 L551.5,244.7 L553.5,243.4 L555.5,242.2 L557.5,241.0 L559.5,239.8 L561.5,238.5 L563.5,237.3 L565.5,236.1 L567.5,234.9 L569.5,233.7 L571.5,232.5 L573.5,231.3 L575.5,230.0 L577.5,228.8 L579.5,227.6 L581.5,226.4 L583.5,225.2 L585.5,224.1 L587.5,223.1 L589.5,222.0 L591.5,221.0 L593.5,220.1 L595.5,219.1 L597.5,218.2 L599.5,217.3 L601.5,216.4 L603.5,215.5 L605.5,214.6 L607.5,213.7 L609.5,212.8 L611.5,212.0 L613.5,211.1 L615.5,210.2 L617.5,209.3 L619.5,208.5 L621.5,207.6 L623.5,206.7 L625.5,205.9 L627.5,205.1 L629.5,204.2 L631.5,203.4 L633.5,202.6 L635.5,201.8 L637.5,201.0 L639.5,200.2 L641.5,199.5 L643.5,198.8 L645.5,198.1 L647.5,197.4 L649.5,196.7 L651.5,196.0 L653.5,195.3 L655.5,194.7 L657.5,194.0 L659.5,193.3 L661.5,192.6 L663.5,191.9 L665.5,191.2 L667.5,190.5 L669.5,189.8 L671.5,189.1 L673.5,188.4 L675.5,187.7 L677.5,187.0 L679.5,186.3 L681.5,185.6 L683.5,184.9 L685.5,184.2 L687.5,183.5 L689.5,182.8 L691.5,182.0 L693.5,181.3 L695.5,180.6 L697.5,179.9 L699.5,179.2 L701.5,178.5 L703.5,177.8 L705.5,177.1 L707.5,176.4 L709.5,175.7 L711.5,175.0 L713.5,174.3 L715.5,173.6 L717.5,173.0 L719.5,172.3 L721.5,171.6 L723.5,171.0 L725.5,170.3 L727.5,169.7 L729.5,169.0 L731.5,168.4 L733.5,167.7 L735.5,167.1 L737.5,166.4 L739.5,165.8 L741.5,165.1 L743.5,164.5 L745.5,163.8 L747.5,163.2 L749.5,162.6 L751.5,161.9 L753.5,161.3 L755.5,160.6 L757.5,160.0 L759.5,159.4 L761.5,158.7 L763.5,158.1 L765.5,157.5 L767.5,156.8 L769.5,156.2 L771.5,155.6 L773.5,155.0 L775.5,154.4 L777.5,153.7 L779.5,153.1 L779.7,153.1" stroke="#00008b" stroke-dasharray="2.69 2.69"/>
<path d="M171.5,275.0 L173.5,277.2 L175.5,279.4 L177.5,281.5 L179.5,283.7 L181.5,285.7 L183.5,287.7 L185.5,289.7 L187.5,291.7 L189.5,293.6 L191.5,295.5 L193.5,297.4 L195.5,299.2 L197.5,300.8 L199.5,302.3 L201.5,303.6 L203.5,304.9 L205.5,306.0 L207.5,307.1 L209.5,308.2 L211.5,309.3 L213.5,310.4 L215.5,311.5 L217.5,312.5 L219.5,313.6 L221.5,314.6 L223.5,315.6 L225.5,316.6 L227.5,317.6 L229.5,318.5 L231.5,319.5 L233.5,320.4 L235.5,321.3 L237.5,322.2 L239.5,323.2 L241.5,324.1 L243.5,324.9 L245.5,325.8 L247.5,326.7 L249.5,327.4 L251.5,328.2 L253.5,328.9 L255.5,329.6 L257.5,330.2 L259.5,330.9 L261.5,331.5 L263.5,332.1 L265.5,332.7 L267.5,333.3 L269.5,333.8 L271.5,334.4 L273.5,334.9 L275.5,335.4 L277.5,335.9 L279.5,336.4 L281.5,336.9 L283.5,337.3 L285.5,337.8 L287.5,338.2 L289.5,338.7 L291.5,339.1 L293.5,339.5 L295.5,339.9 L297.5,340.3 L299.5,340.7 L301.5,341.1 L303.5,341.4 L305.5,341.8 L307.5,342.2 L309.5,342.6 L311.5,343.0 L313.5,343.3 L315.5,343.7 L317.5,344.1 L319.5,344.5 L321.5,344.8 L323.5,345.2 L325.5,345.6 L327.5,346.0 L329.5,346.3 L331.5,346.7 L333.5,347.1 L335.5,347.4 L337.5,347.8 L339.5,348.1 L341.5,348.4 L343.5,348.7 L345.5,348.9 L347.5,349.2 L349.5,349.5 L351.5,349.7 L353.5,349.9 L355.5,350.1 L357.5,350.2 L359.5,350.4 L361.5,350.5 L363.5,350.6 L365.5,350.7 L367.5,350.8 L369.5,350.9 L371.5,350.9 L373.5,351.0 L375.5,351.0 L377.5,351.0 L379.5,351.0 L381.5,350.9 L383.5,350.9 L385.5,350.8 L387.5,350.7 L389.5,350.6 L391.5,350.4 L393.5,350.3 L395.5,350.1 L397.5,350.0 L399.5,349.8 L401.5,349.6 L403.5,349.3 L405.5,349.1 L407.5,348.9 L409.5,348.6 L411.5,348.4 L413.5,348.1 L415.5,347.9 L417.5,347.6 L419.5,347.3 L421.5,346.9 L423.5,346.4 L425.5,346.0 L427.5,345.4 L429.5,344.9 L431.5,344.3 L433.5,343.8 L435.5,343.2 L437.5,342.6 L439.5,342.1 L441.5,341.5 L443.5,340.9 L445.5,340.3 L447.5,339.6 L449.5,339.0 L451.5,338.3 L453.5,337.6 L455.5,337.0 L457.5,336.2 L459.5,335.5 L461.5,334.8 L463.5,334.0 L465.5,333.3 L467.5,332.5 L469.5,331.7 L471.5,330.8 L473.5,330.0 L475.5,329.1 L477.5,328.2 L479.5,327.2 L481.5,326.2 L483.5,325.1 L485.5,324.0 L487.5,322.9 L489.5,321.8 L491.5,320.7 L493.5,319.5 L495.5,318.4 L497.5,317.2 L499.5,316.0 L501.5,314.8 L503.5,313.6 L505.5,312.3 L507.5,311.0 L509.5,309.7 L511.5,308.4 L513.5,307.0 L515.5,305.6 L517.5,304.2 L519.5,302.7 L521.5,301.2 L523.5,299.7 L525.5,298.0 L527.5,296.3 L529.5,294.5 L531.5,292.6 L533.5,290.7 L535.5,288.7 L537.5,286.8 L539.5,284.9 L541.5,283.1 L543.5,281.2 L545.5,279.3 L547.5,277.4 L549.5,275.5 L551.5,273.8 L553.5,272.1 L555.5,270.4 L557.5,268.9 L559.5,267.3 L561.5,265.8 L563.5,264.3 L565.5,262.8 L567.5,261.2 L569.5,259.6 L571.5,258.0 L573.5,256.2 L575.5,254.5 L577.5,252.7 L579.5,250.9 L581.5,249.2 L583.5,247.6 L585.5,245.9 L587.5,244.3 L589.5,242.7 L591.5,241.1 L593.5,239.4 L595.5,237.8 L597.5,236.2 L599.5,234.6 L601.5,233.1 L603.5,231.5 L605.5,230.0 L607.5,228.6 L609.5,227.2 L611.5,225.8 L613.5,224.4 L615.5,223.1 L617.5,221.9 L619.5,220.6 L621.5,219.5 L623.5,218.3 L625.5,217.2 L627.5,216.1 L629.5,215.0 L631.5,213.9 L633.5,212.9 L635.5,211.8 L637.5,210.8 L639.5,209.8 L641.5,208.7 L643.5,207.7 L645.5,206.8 L647.5,205.8 L649.5,204.8 L651.5,203.8 L653.5,202.9 L655.5,201.9 L657.5,201.0 L659.5,200.1 L661.5,199.1 L663.5,198.2 L665.5,197.3 L667.5,196.4 L669.5,195.4 L671.5,194.5 L673.5,193.6 L675.5,192.7 L677.5,191.8 L679.5,190.9 L681.5,190.1 L683.5,189.3 L685.5,188.4 L687.5,187.6 L689.5,186.8 L691.5,186.0 L693.5,185.2 L695.5,184.4 L697.5,183.5 L699.5,182.7 L701.5,181.9 L703.5,181.1 L705.5,180.3 L707.5,179.6 L709.5,178.8 L711.5,178.0 L713.5,177.2 L715.5,176.4 L717.5,175.7 L719.5,174.9 L721.5,174.2 L723.5,173.4 L725.5,172.7 L727.5,171.9 L729.5,171.2 L731.5,170.5 L733.5,169.8 L735.5,169.1 L737.5,168.4 L739.5,167.7 L741.5,167.0 L743.5,166.4 L745.5,165.7 L747.5,165.1 L749.5,164.4 L751.5,163.8 L753.5,163.1 L755.5,162.5 L757.5,161.9 L759.5,161.3 L761.5,160.7 L763.5,160.1 L765.5,159.5 L767.5,158.9 L769.5,158.3 L771.5,157.7 L773.5,157.1 L775.5,156.6 L777.5,156.0 L779.5,155.5 L779.7,155.4" stroke="#6495ed" stroke-dasharray="2.69 2.69 2.69 2.69 2.69 2.69 2.69 2.69 2.69 2.69 2.69 2.69 2.69 2.69 2.69 8.07 2.69 8.07" stroke-dashoffset="11.0"/>
<path d="M171.5,146.7 L173.5,148.9 L175.5,151.0 L177.5,153.1 L179.5,155.0 L181.5,156.9 L183.5,158.7 L185.5,160.4 L187.5,162.0 L189.5,163.4 L191.5,164.8 L193.5,166.0 L195.5,167.3 L197.5,168.4 L199.5,169.5 L201.5,170.6 L203.5,171.6 L205.5,172.6 L207.5,173.6 L209.5,174.6 L211.5,175.6 L213.5,176.5 L215.5,177.5 L217.5,178.4 L219.5,179.2 L221.5,180.1 L223.5,181.0 L225.5,181.9 L227.5,182.8 L229.5,183.8 L231.5,184.8 L233.5,185.8 L235.5,186.6 L237.5,187.3 L239.5,188.0 L241.5,188.6 L243.5,189.1 L245.5,189.7 L247.5,190.2 L249.5,190.7 L251.5,191.2 L253.5,191.7 L255.5,192.1 L257.5,192.6 L259.5,193.0 L261.5,193.4 L263.5,193.8 L265.5,194.2 L267.5,194.6 L269.5,195.0 L271.5,195.4 L273.5,195.7 L275.5,196.1 L277.5,196.5 L279.5,196.9 L281.5,197.3 L283.5,197.7 L285.5,198.1 L287.5,198.5 L289.5,198.9 L291.5,199.3 L293.5,199.7 L295.5,200.1 L297.5,200.5 L299.5,200.8 L301.5,201.2 L303.5,201.6 L305.5,202.0 L307.5,202.3 L309.5,202.7 L311.5,203.1 L313.5,203.4 L315.5,203.8 L317.5,204.2 L319.5,204.5 L321.5,204.9 L323.5,205.3 L325.5,205.6 L327.5,206.0 L329.5,206.4 L331.5,206.7 L333.5,207.1 L335.5,207.5 L337.5,207.8 L339.5,208.2 L341.5,208.6 L343.5,209.0 L345.5,209.4 L347.5,209.8 L349.5,210.2 L351.5,210.6 L353.5,211.0 L355.5,211.4 L357.5,211.8 L359.5,212.1 L361.5,212.4 L363.5,212.7 L365.5,213.0 L367.5,213.3 L369.5,213.6 L371.5,213.8 L373.5,214.1 L375.5,214.3 L377.5,214.6 L379.5,214.8 L381.5,215.0 L383.5,215.2 L385.5,215.3 L387.5,215.4 L389.5,215.5 L391.5,215.6 L393.5,215.6 L395.5,215.7 L397.5,215.8 L399.5,215.8 L401.5,215.9 L403.5,215.9 L405.5,215.9 L407.5,216.0 L409.5,216.0 L411.5,216.0 L413.5,216.0 L415.5,216.0 L417.5,215.9 L419.5,215.8 L421.5,215.7 L423.5,215.5 L425.5,215.4 L427.5,215.2 L429.5,215.0 L431.5,214.8 L433.5,214.5 L435.5,214.3 L437.5,214.0 L439.5,213.7 L441.5,213.3 L443.5,212.9 L445.5,212.5 L447.5,212.1 L449.5,211.7 L451.5,211.2 L453.5,210.6 L455.5,210.0 L457.5,209.3 L459.5,208.6 L461.5,207.8 L463.5,207.0 L465.5,206.3 L467.5,205.6 L469.5,204.8 L471.5,204.0 L473.5,203.3 L475.5,202.5 L477.5,201.7 L479.5,200.8 L481.5,199.9 L483.5,198.9 L485.5,197.9 L487.5,196.9 L489.5,195.8 L491.5,194.8 L493.5,193.6 L495.5,192.2 L497.5,190.9 L499.5,189.5 L501.5,188.1 L503.5,186.7 L505.5,185.3 L507.5,183.8 L509.5,182.3 L511.5,180.7 L513.5,179.1 L515.5,177.5 L517.5,175.8 L519.5,174.1 L521.5,172.4 L523.5,170.9 L525.5,169.5 L527.5,168.0 L529.5,166.4 L531.5,164.7 L533.5,163.0 L535.5,161.1 L537.5,159.1 L539.5,157.3 L541.5,155.5 L543.5,153.6 L545.5,151.7 L547.5,149.7 L549.5,147.7 L551.5,145.6 L553.5,143.3 L555.5,141.0 L557.5,138.5 L559.5,136.1 L561.5,133.8 L563.5,131.5 L565.5,129.4 L567.5,127.2 L569.5,125.0 L571.5,122.9 L573.5,121.0 L575.5,119.1 L577.5,117.2 L579.5,115.4 L581.5,113.2 L583.5,111.1 L585.5,109.6 L587.5,108.1 L589.5,106.2 L591.5,104.2 L593.5,102.9 L595.5,101.6 L597.5,99.7 L599.5,97.7 L601.5,96.5 L603.5,95.4 L605.5,93.4 L607.5,91.4 L609.5,90.0 L611.5,88.6 L613.5,87.4 L615.5,86.2 L617.5,85.0 L619.5,83.8 L621.5,82.2 L623.5,80.7 L625.5,78.6 L627.5,76.6 L629.5,75.8 L631.5,75.1 L633.5,73.9 L635.5,72.6 L637.5,71.4 L639.5,70.1 L641.5,69.0 L643.5,68.0 L645.5,68.2 L647.5,68.5 L649.5,66.6 L651.5,64.6 L653.5,63.6 L655.5,62.5 L657.5,62.5 L659.5,62.5 L661.5,61.5 L663.5,60.4 L665.5,59.6 L667.5,58.7 L669.5,58.6 L671.5,58.4 L673.5,57.6 L675.5,56.8 L677.5,56.0 L679.5,55.3 L681.5,55.1 L683.5,54.9 L685.5,53.8 L687.5,52.6 L689.5,51.3 L691.5,49.9 L693.5,49.4 L695.5,48.9 L697.5,48.1 L699.5,47.3 L701.5,47.2 L703.5,47.2 L705.5,45.3 L707.5,43.5 L709.5,42.1 L711.5,40.7 L713.5,41.8 L715.5,43.0 L717.5,41.0 L719.5,38.9 L721.5,37.6 L723.5,36.3 L725.5,38.1 L727.5,39.9 L729.5,38.0 L731.5,36.2 L733.5,36.8 L735.5,37.4 L737.5,35.4 L739.5,33.4 L741.5,31.9 L743.5,30.5 L745.5,29.6 L747.5,28.8 L749.5,29.0 L751.5,29.2 L753.5,28.9 L755.5,28.6 L757.5,27.3 L759.5,26.1 L761.5,26.2 L763.5,26.3 L765.5,24.1 L767.5,22.0 L769.5,23.4 L771.5,24.8 L773.5,22.1 L775.5,19.3 L777.5,20.8 L779.5,22.4 L779.7,22.4" stroke="#2f4f4f" stroke-linecap="square"/>
<path d="M171.5,170.2 L173.5,171.1 L175.5,172.1 L177.5,173.0 L179.5,173.9 L181.5,174.8 L183.5,175.6 L185.5,176.4 L187.5,177.3 L189.5,178.0 L191.5,178.8 L193.5,179.6 L195.5,180.4 L197.5,181.2 L199.5,181.9 L201.5,182.6 L203.5,183.3 L205.5,184.0 L207.5,184.5 L209.5,185.1 L211.5,185.5 L213.5,185.9 L215.5,186.2 L217.5,186.6 L219.5,186.9 L221.5,187.1 L223.5,187.4 L225.5,187.7 L227.5,187.9 L229.5,188.2 L231.5,188.5 L233.5,188.8 L235.5,189.1 L237.5,189.4 L239.5,189.8 L241.5,190.3 L243.5,190.7 L245.5,191.2 L247.5,191.7 L249.5,192.3 L251.5,192.8 L253.5,193.2 L255.5,193.6 L257.5,193.9 L259.5,194.2 L261.5,194.6 L263.5,194.9 L265.5,195.2 L267.5,195.5 L269.5,195.7 L271.5,196.0 L273.5,196.3 L275.5,196.6 L277.5,196.9 L279.5,197.2 L281.5,197.4 L283.5,197.7 L285.5,198.0 L287.5,198.3 L289.5,198.6 L291.5,198.9 L293.5,199.2 L295.5,199.5 L297.5,199.8 L299.5,200.1 L301.5,200.4 L303.5,200.8 L305.5,201.2 L307.5,201.5 L309.5,201.9 L311.5,202.3 L313.5,202.6 L315.5,203.0 L317.5,203.4 L319.5,203.7 L321.5,204.1 L323.5,204.5 L325.5,204.8 L327.5,205.2 L329.5,205.6 L331.5,205.9 L333.5,206.3 L335.5,206.7 L337.5,207.0 L339.5,207.4 L341.5,207.8 L343.5,208.2 L345.5,208.6 L347.5,209.0 L349.5,209.4 L351.5,209.8 L353.5,210.2 L355.5,210.6 L357.5,211.0 L359.5,211.3 L361.5,211.6 L363.5,211.9 L365.5,212.2 L367.5,212.5 L369.5,212.8 L371.5,213.0 L373.5,213.3 L375.5,213.5 L377.5,213.8 L379.5,214.0 L381.5,214.2 L383.5,214.4 L385.5,214.5 L387.5,214.6 L389.5,214.7 L391.5,214.8 L393.5,214.8 L395.5,214.9 L397.5,215.0 L399.5,215.0 L401.5,215.1 L403.5,215.1 L405.5,215.1 L407.5,215.2 L409.5,215.2 L411.5,215.2 L413.5,215.2 L415.5,215.2 L417.5,215.1 L419.5,215.0 L421.5,214.9 L423.5,214.7 L425.5,214.6 L427.5,214.4 L429.5,214.2 L431.5,214.0 L433.5,213.7 L435.5,213.5 L437.5,213.2 L439.5,212.9 L441.5,212.5 L443.5,212.1 L445.5,211.7 L447.5,211.3 L449.5,210.9 L451.5,210.4 L453.5,209.8 L455.5,209.2 L457.5,208.5 L459.5,207.8 L461.5,207.0 L463.5,206.2 L465.5,205.5 L467.5,204.8 L469.5,204.0 L471.5,203.2 L473.5,202.5 L475.5,201.7 L477.5,200.9 L479.5,200.0 L481.5,199.1 L483.5,198.1 L485.5,197.1 L487.5,196.1 L489.5,195.0 L491.5,194.0 L493.5,192.8 L495.5,191.4 L497.5,190.1 L499.5,188.7 L501.5,187.3 L503.5,185.9 L505.5,184.5 L507.5,183.0 L509.5,181.5 L511.5,179.9 L513.5,178.3 L515.5,176.7 L517.5,175.0 L519.5,173.3 L521.5,171.6 L523.5,170.1 L525.5,168.7 L527.5,167.2 L529.5,165.6 L531.5,163.9 L533.5,162.2 L535.5,160.3 L537.5,158.3 L539.5,156.5 L541.5,154.7 L543.5,152.8 L545.5,150.9 L547.5,148.9 L549.5,146.9 L551.5,144.8 L553.5,142.5 L555.5,140.2 L557.5,137.7 L559.5,135.3 L561.5,133.0 L563.5,130.7 L565.5,128.6 L567.5,126.4 L569.5,124.2 L571.5,122.1 L573.5,120.2 L575.5,118.3 L577.5,116.4 L579.5,114.6 L581.5,112.4 L583.5,110.3 L585.5,108.8 L587.5,107.3 L589.5,105.4 L591.5,103.4 L593.5,102.1 L595.5,100.8 L597.5,98.9 L599.5,96.9 L601.5,95.7 L603.5,94.6 L605.5,92.6 L607.5,90.6 L609.5,89.2 L611.5,87.8 L613.5,86.6 L615.5,85.4 L617.5,84.2 L619.5,83.0 L621.5,81.4 L623.5,79.9 L625.5,77.8 L627.5,75.8 L629.5,75.0 L631.5,74.3 L633.5,73.1 L635.5,71.8 L637.5,70.6 L639.5,69.3 L641.5,68.2 L643.5,67.2 L645.5,67.4 L647.5,67.7 L649.5,65.8 L651.5,63.8 L653.5,62.8 L655.5,61.7 L657.5,61.7 L659.5,61.7 L661.5,60.7 L663.5,59.6 L665.5,58.8 L667.5,57.9 L669.5,57.8 L671.5,57.6 L673.5,56.8 L675.5,56.0 L677.5,55.2 L679.5,54.5 L681.5,54.3 L683.5,54.1 L685.5,53.0 L687.5,51.8 L689.5,50.5 L691.5,49.1 L693.5,48.6 L695.5,48.1 L697.5,47.3 L699.5,46.5 L701.5,46.4 L703.5,46.4 L705.5,44.5 L707.5,42.7 L709.5,41.3 L711.5,39.9 L713.5,41.0 L715.5,42.2 L717.5,40.2 L719.5,38.1 L721.5,36.8 L723.5,35.5 L725.5,37.3 L727.5,39.1 L729.5,37.2 L731.5,35.4 L733.5,36.0 L735.5,36.6 L737.5,34.6 L739.5,32.6 L741.5,31.1 L743.5,29.7 L745.5,28.8 L747.5,28.0 L749.5,28.2 L751.5,28.4 L753.5,28.1 L755.5,27.8 L757.5,26.5 L759.5,25.3 L761.5,25.4 L763.5,25.5 L765.5,23.3 L767.5,21.2 L769.5,22.6 L771.5,24.0 L773.5,21.3 L775.5,18.5 L777.5,20.0 L779.5,21.6 L779.7,21.6" stroke="#2f4f4f" stroke-dasharray="2.69 2.69"/>
<path d="M171.5,86.8 L173.5,92.5 L175.5,98.2 L177.5,103.7 L179.5,109.2 L181.5,114.5 L183.5,119.8 L185.5,125.1 L187.5,130.4 L189.5,135.5 L191.5,140.2 L193.5,144.5 L195.5,148.6 L197.5,152.6 L199.5,156.4 L201.5,160.1 L203.5,163.7 L205.5,167.0 L207.5,170.2 L209.5,173.3 L211.5,176.1 L213.5,178.8 L215.5,181.2 L217.5,183.6 L219.5,185.8 L221.5,188.0 L223.5,190.2 L225.5,192.5 L227.5,194.7 L229.5,196.9 L231.5,199.2 L233.5,201.3 L235.5,203.5 L237.5,205.6 L239.5,207.6 L241.5,209.6 L243.5,211.5 L245.5,213.3 L247.5,215.0 L249.5,216.6 L251.5,218.3 L253.5,220.2 L255.5,222.0 L257.5,223.9 L259.5,225.7 L261.5,227.5 L263.5,229.2 L265.5,230.8 L267.5,232.3 L269.5,233.7 L271.5,235.1 L273.5,236.5 L275.5,237.8 L277.5,239.2 L279.5,240.4 L281.5,241.7 L283.5,242.9 L285.5,244.2 L287.5,245.4 L289.5,246.5 L291.5,247.7 L293.5,248.8 L295.5,249.9 L297.5,251.0 L299.5,252.1 L301.5,253.2 L303.5,254.3 L305.5,255.3 L307.5,256.4 L309.5,257.4 L311.5,258.4 L313.5,259.3 L315.5,260.2 L317.5,261.0 L319.5,261.8 L321.5,262.5 L323.5,263.1 L325.5,263.8 L327.5,264.4 L329.5,264.9 L331.5,265.5 L333.5,266.1 L335.5,266.6 L337.5,267.1 L339.5,267.6 L341.5,268.1 L343.5,268.6 L345.5,269.2 L347.5,269.7 L349.5,270.1 L351.5,270.6 L353.5,271.0 L355.5,271.4 L357.5,271.7 L359.5,272.1 L361.5,272.4 L363.5,272.7 L365.5,273.0 L367.5,273.3 L369.5,273.5 L371.5,273.7 L373.5,273.9 L375.5,274.0 L377.5,274.0 L379.5,274.1 L381.5,274.1 L383.5,274.1 L385.5,274.1 L387.5,274.2 L389.5,274.2 L391.5,274.2 L393.5,274.2 L395.5,274.2 L397.5,274.2 L399.5,274.1 L401.5,274.0 L403.5,273.8 L405.5,273.6 L407.5,273.4 L409.5,273.1 L411.5,272.8 L413.5,272.6 L415.5,272.2 L417.5,271.7 L419.5,271.0 L421.5,270.3 L423.5,269.5 L425.5,268.8 L427.5,268.1 L429.5,267.3 L431.5,266.5 L433.5,265.7 L435.5,264.9 L437.5,264.1 L439.5,263.3 L441.5,262.6 L443.5,261.8 L445.5,261.0 L447.5,260.2 L449.5,259.4 L451.5,258.5 L453.5,257.7 L455.5,256.8 L457.5,255.9 L459.5,255.0 L461.5,254.1 L463.5,253.1 L465.5,252.1 L467.5,251.0 L469.5,249.9 L471.5,248.6 L473.5,247.3 L475.5,245.9 L477.5,244.5 L479.5,243.0 L481.5,241.5 L483.5,239.9 L485.5,238.3 L487.5,236.6 L489.5,234.9 L491.5,233.2 L493.5,231.4 L495.5,229.6 L497.5,227.8 L499.5,226.0 L501.5,224.2 L503.5,222.3 L505.5,220.4 L507.5,218.4 L509.5,216.5 L511.5,214.5 L513.5,212.4 L515.5,210.4 L517.5,208.2 L519.5,206.0 L521.5,203.6 L523.5,201.1 L525.5,198.5 L527.5,195.8 L529.5,193.1 L531.5,190.5 L533.5,187.9 L535.5,185.3 L537.5,182.7 L539.5,180.0 L541.5,177.3 L543.5,174.5 L545.5,171.7 L547.5,169.3 L549.5,167.1 L551.5,165.1 L553.5,163.1 L555.5,161.3 L557.5,159.1 L559.5,156.8 L561.5,154.4 L563.5,151.9 L565.5,149.4 L567.5,147.0 L569.5,144.4 L571.5,141.7 L573.5,139.2 L575.5,136.7 L577.5,134.1 L579.5,131.5 L581.5,128.7 L583.5,125.9 L585.5,123.8 L587.5,121.9 L589.5,119.5 L591.5,117.3 L593.5,115.9 L595.5,114.6 L597.5,112.5 L599.5,110.2 L601.5,108.4 L603.5,106.7 L605.5,104.3 L607.5,101.9 L609.5,100.1 L611.5,98.3 L613.5,96.7 L615.5,95.2 L617.5,93.7 L619.5,92.3 L621.5,90.6 L623.5,88.8 L625.5,86.7 L627.5,84.5 L629.5,83.6 L631.5,82.8 L633.5,81.5 L635.5,80.2 L637.5,78.9 L639.5,77.7 L641.5,76.6 L643.5,75.4 L645.5,75.3 L647.5,75.2 L649.5,73.0 L651.5,70.8 L653.5,69.6 L655.5,68.3 L657.5,68.2 L659.5,68.1 L661.5,66.9 L663.5,65.8 L665.5,64.8 L667.5,63.8 L669.5,63.5 L671.5,63.3 L673.5,62.3 L675.5,61.3 L677.5,60.4 L679.5,59.6 L681.5,59.2 L683.5,58.8 L685.5,57.5 L687.5,56.2 L689.5,54.7 L691.5,53.1 L693.5,52.5 L695.5,51.8 L697.5,50.9 L699.5,49.9 L701.5,49.8 L703.5,49.6 L705.5,47.7 L707.5,45.8 L709.5,44.3 L711.5,42.8 L713.5,43.9 L715.5,45.0 L717.5,43.0 L719.5,40.9 L721.5,39.6 L723.5,38.3 L725.5,40.0 L727.5,41.8 L729.5,40.0 L731.5,38.2 L733.5,38.8 L735.5,39.5 L737.5,37.7 L739.5,35.9 L741.5,34.5 L743.5,33.1 L745.5,32.3 L747.5,31.5 L749.5,31.7 L751.5,31.9 L753.5,31.6 L755.5,31.2 L757.5,29.9 L759.5,28.6 L761.5,28.6 L763.5,28.6 L765.5,26.4 L767.5,24.2 L769.5,25.5 L771.5,26.8 L773.5,23.9 L775.5,21.0 L777.5,22.3 L779.5,23.7 L779.7,23.7" stroke="#20b2aa" stroke-dasharray="40.35 8.07 2.69 8.07"/>
<path d="M171.5,107.8 L173.5,113.5 L175.5,119.1 L177.5,124.3 L179.5,129.3 L181.5,134.0 L183.5,138.5 L185.5,142.9 L187.5,147.0 L189.5,150.8 L191.5,154.3 L193.5,157.6 L195.5,160.8 L197.5,163.8 L199.5,166.7 L201.5,169.5 L203.5,172.3 L205.5,175.0 L207.5,177.6 L209.5,180.3 L211.5,183.0 L213.5,185.6 L215.5,188.1 L217.5,190.6 L219.5,193.2 L221.5,195.9 L223.5,198.6 L225.5,201.2 L227.5,203.8 L229.5,206.4 L231.5,208.8 L233.5,210.9 L235.5,212.9 L237.5,214.9 L239.5,216.8 L241.5,218.6 L243.5,220.4 L245.5,222.1 L247.5,223.8 L249.5,225.4 L251.5,226.9 L253.5,228.4 L255.5,229.9 L257.5,231.4 L259.5,232.8 L261.5,234.1 L263.5,235.4 L265.5,236.7 L267.5,238.0 L269.5,239.2 L271.5,240.4 L273.5,241.6 L275.5,242.8 L277.5,243.9 L279.5,245.1 L281.5,246.2 L283.5,247.3 L285.5,248.4 L287.5,249.5 L289.5,250.6 L291.5,251.6 L293.5,252.6 L295.5,253.6 L297.5,254.5 L299.5,255.4 L301.5,256.3 L303.5,257.1 L305.5,258.0 L307.5,258.8 L309.5,259.7 L311.5,260.6 L313.5,261.5 L315.5,262.4 L317.5,263.2 L319.5,264.0 L321.5,264.8 L323.5,265.6 L325.5,266.3 L327.5,267.0 L329.5,267.6 L331.5,268.2 L333.5,268.8 L335.5,269.4 L337.5,269.9 L339.5,270.4 L341.5,270.9 L343.5,271.4 L345.5,272.0 L347.5,272.5 L349.5,272.9 L351.5,273.4 L353.5,273.8 L355.5,274.2 L357.5,274.5 L359.5,274.9 L361.5,275.2 L363.5,275.5 L365.5,275.8 L367.5,276.1 L369.5,276.3 L371.5,276.5 L373.5,276.7 L375.5,276.8 L377.5,276.8 L379.5,276.9 L381.5,276.9 L383.5,276.9 L385.5,276.9 L387.5,277.0 L389.5,277.0 L391.5,277.0 L393.5,277.0 L395.5,277.0 L397.5,277.0 L399.5,276.9 L401.5,276.8 L403.5,276.6 L405.5,276.4 L407.5,276.2 L409.5,275.9 L411.5,275.6 L413.5,275.4 L415.5,275.0 L417.5,274.5 L419.5,273.8 L421.5,273.1 L423.5,272.3 L425.5,271.6 L427.5,270.9 L429.5,270.1 L431.5,269.3 L433.5,268.5 L435.5,267.7 L437.5,266.9 L439.5,266.1 L441.5,265.4 L443.5,264.6 L445.5,263.8 L447.5,263.0 L449.5,262.2 L451.5,261.3 L453.5,260.5 L455.5,259.6 L457.5,258.7 L459.5,257.8 L461.5,256.9 L463.5,255.9 L465.5,254.9 L467.5,253.8 L469.5,252.7 L471.5,251.4 L473.5,250.1 L475.5,248.7 L477.5,247.3 L479.5,245.8 L481.5,244.3 L483.5,242.7 L485.5,241.1 L487.5,239.4 L489.5,237.7 L491.5,236.0 L493.5,234.2 L495.5,232.4 L497.5,230.6 L499.5,228.8 L501.5,227.0 L503.5,225.1 L505.5,223.2 L507.5,221.2 L509.5,219.3 L511.5,217.3 L513.5,215.2 L515.5,213.2 L517.5,211.0 L519.5,208.8 L521.5,206.4 L523.5,203.9 L525.5,201.3 L527.5,198.6 L529.5,195.9 L531.5,193.3 L533.5,190.6 L535.5,187.9 L537.5,185.2 L539.5,182.5 L541.5,179.7 L543.5,176.8 L545.5,174.0 L547.5,171.5 L549.5,169.2 L551.5,167.1 L553.5,165.1 L555.5,163.1 L557.5,160.8 L559.5,158.5 L561.5,156.0 L563.5,153.4 L565.5,150.9 L567.5,148.3 L569.5,145.7 L571.5,143.0 L573.5,140.5 L575.5,138.0 L577.5,135.4 L579.5,132.8 L581.5,130.0 L583.5,127.2 L585.5,125.1 L587.5,123.2 L589.5,120.8 L591.5,118.6 L593.5,117.2 L595.5,115.9 L597.5,113.8 L599.5,111.5 L601.5,109.7 L603.5,108.0 L605.5,105.6 L607.5,103.2 L609.5,101.4 L611.5,99.6 L613.5,98.0 L615.5,96.5 L617.5,95.0 L619.5,93.6 L621.5,91.9 L623.5,90.1 L625.5,88.0 L627.5,85.8 L629.5,84.9 L631.5,84.1 L633.5,82.7 L635.5,81.4 L637.5,80.1 L639.5,78.8 L641.5,77.6 L643.5,76.4 L645.5,76.3 L647.5,76.2 L649.5,73.9 L651.5,71.7 L653.5,70.4 L655.5,69.1 L657.5,68.9 L659.5,68.8 L661.5,67.6 L663.5,66.4 L665.5,65.4 L667.5,64.4 L669.5,64.1 L671.5,63.8 L673.5,62.7 L675.5,61.7 L677.5,60.8 L679.5,59.9 L681.5,59.5 L683.5,59.1 L685.5,57.8 L687.5,56.5 L689.5,55.0 L691.5,53.4 L693.5,52.8 L695.5,52.1 L697.5,51.2 L699.5,50.2 L701.5,50.1 L703.5,49.9 L705.5,48.0 L707.5,46.1 L709.5,44.6 L711.5,43.1 L713.5,44.2 L715.5,45.3 L717.5,43.3 L719.5,41.2 L721.5,39.9 L723.5,38.6 L725.5,40.3 L727.5,42.1 L729.5,40.3 L731.5,38.5 L733.5,39.1 L735.5,39.8 L737.5,38.0 L739.5,36.2 L741.5,34.8 L743.5,33.4 L745.5,32.6 L747.5,31.8 L749.5,32.0 L751.5,32.2 L753.5,31.9 L755.5,31.5 L757.5,30.2 L759.5,28.9 L761.5,28.9 L763.5,28.9 L765.5,26.7 L767.5,24.5 L769.5,25.8 L771.5,27.1 L773.5,24.2 L775.5,21.3 L777.5,22.6 L779.5,24.0 L779.7,24.0" stroke="#20b2aa" stroke-dasharray="2.69 2.69 2.69 2.69 2.69 2.69 2.69 2.69 2.69 2.69 2.69 2.69 2.69 2.69 2.69 8.07 2.69 8.07" stroke-dashoffset="14.4"/>
</g>
<polygon points="237.9,418.1 240.3,425.4 248.0,425.4 241.8,430.0 244.1,437.3 237.9,432.7 231.7,437.3 234.0,430.0 227.8,425.4 235.5,425.4" fill="#4b0082" stroke="#4b0082" stroke-width="1.8" stroke-linejoin="bevel"/>
<polygon points="237.9,410.3 240.3,417.6 248.0,417.6 241.8,422.2 244.1,429.5 237.9,424.9 231.7,429.5 234.0,422.2 227.8,417.6 235.5,417.6" fill="#4b0082" stroke="#4b0082" stroke-width="1.8" stroke-linejoin="bevel"/>
<polygon points="237.9,269.8 240.3,277.1 248.0,277.1 241.8,281.7 244.1,289.0 237.9,284.4 231.7,289.0 234.0,281.7 227.8,277.1 235.5,277.1" fill="#00008b" stroke="#00008b" stroke-width="1.8" stroke-linejoin="bevel"/>
<polygon points="237.9,266.0 240.3,273.3 248.0,273.3 241.8,277.9 244.1,285.2 237.9,280.6 231.7,285.2 234.0,277.9 227.8,273.3 235.5,273.3" fill="#00008b" stroke="#00008b" stroke-width="1.8" stroke-linejoin="bevel"/>
<polygon points="237.9,179.1 240.3,186.4 248.0,186.4 241.8,191.0 244.1,198.3 237.9,193.7 231.7,198.3 234.0,191.0 227.8,186.4 235.5,186.4" fill="#2f4f4f" stroke="#2f4f4f" stroke-width="1.8" stroke-linejoin="bevel"/>
<polygon points="237.9,176.0 240.3,183.3 248.0,183.3 241.8,187.9 244.1,195.2 237.9,190.6 231.7,195.2 234.0,187.9 227.8,183.3 235.5,183.3" fill="#2f4f4f" stroke="#2f4f4f" stroke-width="1.8" stroke-linejoin="bevel"/>
<circle cx="433.7" cy="381.8" r="11.8" fill="#4b0082"/>
<circle cx="433.7" cy="280.1" r="11.8" fill="#00008b"/>
<circle cx="433.7" cy="214.2" r="11.8" fill="#2f4f4f"/>
<polygon points="593.3,340.3 614.7,340.3 604.0,361.7" fill="#4b0082" stroke="#4b0082" stroke-width="1.8" stroke-linejoin="miter"/>
<polygon points="593.3,204.3 614.7,204.3 604.0,225.7" fill="#00008b" stroke="#00008b" stroke-width="1.8" stroke-linejoin="miter"/>
<polygon points="593.3,84.2 614.7,84.2 604.0,105.6" fill="#2f4f4f" stroke="#2f4f4f" stroke-width="1.8" stroke-linejoin="miter"/>
<rect x="227.7" y="36.4" width="268.6" height="89" rx="3.6" ry="3.6" fill="#fff" fill-opacity="0.8" stroke="#cfcfcf" stroke-width="1.8"/>
<path d="M237.3,58 H298.7" stroke="#000" stroke-width="3.64"/>
<path d="M237.3,98.4 H298.7" stroke="#000" stroke-width="3.64" stroke-dasharray="3.64 6.0" stroke-dashoffset="-2.2"/>
<g font-family="'Liberation Sans', sans-serif" font-size="27.4" fill="#000" stroke="#fff" stroke-width="0.3">
<text x="320.0" y="68.1" textLength="98" lengthAdjust="spacingAndGlyphs">isotropic</text>
<text x="428.6" y="68.1" textLength="52.5" lengthAdjust="spacingAndGlyphs">HTL</text>
<text x="320.0" y="108.1" textLength="163.4" lengthAdjust="spacingAndGlyphs">approximation</text>
</g>
<rect x="140.8" y="21.6" width="669.4" height="490.4" fill="none" stroke="#000" stroke-width="1.9"/>
<path d="M211.1,512.0 v6.3 M362.5,512.0 v6.3 M513.9,512.0 v6.3 M665.2,512.0 v6.3 M140.8,512.0 h-6.3 M140.8,416.0 h-6.3 M140.8,320.1 h-6.3 M140.8,224.1 h-6.3 M140.8,128.2 h-6.3 M140.8,32.2 h-6.3" stroke="#000" stroke-width="1.44" fill="none"/>
<path d="M150.9,512.0 v3.6 M165.5,512.0 v3.6 M177.5,512.0 v3.6 M187.7,512.0 v3.6 M196.4,512.0 v3.6 M204.2,512.0 v3.6 M256.7,512.0 v3.6 M283.3,512.0 v3.6 M302.2,512.0 v3.6 M316.9,512.0 v3.6 M328.9,512.0 v3.6 M339.0,512.0 v3.6 M347.8,512.0 v3.6 M355.5,512.0 v3.6 M408.0,512.0 v3.6 M434.7,512.0 v3.6 M453.6,512.0 v3.6 M468.3,512.0 v3.6 M480.3,512.0 v3.6 M490.4,512.0 v3.6 M499.2,512.0 v3.6 M506.9,512.0 v3.6 M559.4,512.0 v3.6 M586.1,512.0 v3.6 M605.0,512.0 v3.6 M619.6,512.0 v3.6 M631.6,512.0 v3.6 M641.8,512.0 v3.6 M650.5,512.0 v3.6 M658.3,512.0 v3.6 M710.8,512.0 v3.6 M737.4,512.0 v3.6 M756.3,512.0 v3.6 M771.0,512.0 v3.6 M783.0,512.0 v3.6 M793.1,512.0 v3.6 M801.9,512.0 v3.6 M809.6,512.0 v3.6" stroke="#000" stroke-width="1.08" fill="none"/>
<g font-family="'Liberation Serif', serif" fill="#000" stroke="#fff" stroke-width="0.55">
<text x="127.8" y="525.1" font-size="35.6" text-anchor="end" textLength="59.4" lengthAdjust="spacingAndGlyphs">0.00</text>
<text x="127.8" y="429.1" font-size="35.6" text-anchor="end" textLength="59.4" lengthAdjust="spacingAndGlyphs">0.01</text>
<text x="127.8" y="333.2" font-size="35.6" text-anchor="end" textLength="59.4" lengthAdjust="spacingAndGlyphs">0.02</text>
<text x="127.8" y="237.2" font-size="35.6" text-anchor="end" textLength="59.4" lengthAdjust="spacingAndGlyphs">0.03</text>
<text x="127.8" y="141.3" font-size="35.6" text-anchor="end" textLength="59.4" lengthAdjust="spacingAndGlyphs">0.04</text>
<text x="127.8" y="45.3" font-size="35.6" text-anchor="end" textLength="59.4" lengthAdjust="spacingAndGlyphs">0.05</text>
<text x="177.9" y="550" font-size="35.6" textLength="32.6" lengthAdjust="spacingAndGlyphs">10</text>
<text x="211.4" y="537.4" font-size="23.8" stroke-width="0.35" textLength="32.4" lengthAdjust="spacingAndGlyphs">−3</text>
<text x="329.3" y="550" font-size="35.6" textLength="32.6" lengthAdjust="spacingAndGlyphs">10</text>
<text x="362.8" y="537.4" font-size="23.8" stroke-width="0.35" textLength="32.4" lengthAdjust="spacingAndGlyphs">−2</text>
<text x="480.7" y="550" font-size="35.6" textLength="32.6" lengthAdjust="spacingAndGlyphs">10</text>
<text x="514.2" y="537.4" font-size="23.8" stroke-width="0.35" textLength="32.4" lengthAdjust="spacingAndGlyphs">−1</text>
<text x="641.6" y="550" font-size="35.6" textLength="32.4" lengthAdjust="spacingAndGlyphs">10</text>
<text x="674.1" y="537.4" font-size="23.8" stroke-width="0.35" textLength="12.9" lengthAdjust="spacingAndGlyphs">0</text>
<g transform="translate(411.1,577.3)" stroke="#000" fill="none">
<path d="M0.3,4.9 C1.4,2.2 3.0,0 6.2,0 H18.4" stroke-width="2.1"/>
<path d="M10.8,0.6 C10.0,6 8.2,11.5 6.6,15.2" stroke-width="2.3" stroke-linecap="round"/>
</g>
<path d="M433.8,602.4 L447.0,564.5" stroke="#000" stroke-width="1.5" fill="none"/>
<g transform="translate(451.6,577.3)" stroke="#000" fill="none">
<path d="M0.3,4.9 C1.4,2.2 3.0,0 6.2,0 H18.4" stroke-width="2.1"/>
<path d="M10.8,0.6 C10.0,6 8.2,11.5 6.6,15.2" stroke-width="2.3" stroke-linecap="round"/>
</g>
<text x="467.6" y="599.6" font-size="29.3" stroke-width="0.4" textLength="73.5" lengthAdjust="spacingAndGlyphs">BMSS</text>
<text x="695.6" y="493.6" font-size="40" font-style="italic" textLength="19.6" lengthAdjust="spacingAndGlyphs">λ</text>
<path d="M728.1,479.1 H753.4 M728.1,487.2 H753.4" stroke="#000" stroke-width="1.5" fill="none"/>
<text x="765.5" y="493.6" font-size="39">2</text>
<g transform="translate(51.4,335.8) rotate(-90)">
<text x="0.2" y="0" font-size="34.5" font-style="italic">q</text>
<path d="M7.1,-21.2 L11.4,-26.4 L15.8,-21.2" stroke="#000" stroke-width="1.3" fill="none"/>
<text x="17.6" y="-15.0" font-size="27" stroke-width="0.35" font-style="italic">i</text>
<text x="31.0" y="-15.0" font-size="27" stroke-width="0.35" font-style="italic">j</text>
<path d="M43.7,10 L57.7,-28.3" stroke="#000" stroke-width="1.5" fill="none"/>
<text x="61.7" y="0" font-size="40.5" font-style="italic" stroke-width="0.2">λ</text>
<text x="82.4" y="-14" font-size="27.8" stroke-width="0.35">2</text>
<text x="93.6" y="0" font-size="39.5" font-style="italic" textLength="25.5" lengthAdjust="spacingAndGlyphs" stroke-width="1.0">T</text>
<text x="125.4" y="-13.6" font-size="27.8" stroke-width="0.35">3</text>
<text x="120.3" y="10.4" font-size="27" stroke-width="0.35" font-style="italic">ε</text>
</g>
</g>
<g font-family="'Liberation Serif', serif" fill="#2f4f4f" font-size="25.3" stroke="#fff" stroke-width="0.25">
<text x="679.3" y="95.9">Λ</text>
<path d="M697.5,99.5 h11.6 M703.3,99.5 v-11.4" stroke="#2f4f4f" stroke-width="1.0" fill="none"/>
<path d="M718.8,87.0 h16.6 M718.8,92.1 h16.6" stroke="#2f4f4f" stroke-width="1.0" fill="none"/>
<text x="744.3" y="95.9" textLength="24.0" lengthAdjust="spacingAndGlyphs">15</text>
<text x="768.8" y="95.9" font-style="italic">Q</text>
<text x="789.3" y="99.7" font-size="17.7" font-style="italic">s</text>
</g>
<g font-family="'Liberation Serif', serif" fill="#00008b" font-size="25.3" stroke="#fff" stroke-width="0.25">
<text x="685.6" y="232.6">Λ</text>
<path d="M703.8,236.2 h11.6 M709.6,236.2 v-11.4" stroke="#00008b" stroke-width="1.0" fill="none"/>
<path d="M725.1,223.7 h16.6 M725.1,228.8 h16.6" stroke="#00008b" stroke-width="1.0" fill="none"/>
<text x="750.6" y="232.6" textLength="11.6" lengthAdjust="spacingAndGlyphs">3</text>
<text x="762.7" y="232.6" font-style="italic">Q</text>
<text x="783.2" y="236.4" font-size="17.7" font-style="italic">s</text>
</g>
<g font-family="'Liberation Serif', serif" fill="#4b0082" font-size="25.3" stroke="#fff" stroke-width="0.25">
<text x="676.3" y="360.3">Λ</text>
<path d="M694.5,363.9 h11.6 M700.3,363.9 v-11.4" stroke="#4b0082" stroke-width="1.0" fill="none"/>
<path d="M715.8,351.4 h16.6 M715.8,356.5 h16.6" stroke="#4b0082" stroke-width="1.0" fill="none"/>
<text x="741.3" y="360.3" textLength="30.6" lengthAdjust="spacingAndGlyphs">0.5</text>
<text x="772.4" y="360.3" font-style="italic">Q</text>
<text x="792.9" y="364.1" font-size="17.7" font-style="italic">s</text>
</g>
<text x="283.5" y="213.6" font-family="'Liberation Serif', serif" font-size="25.3" font-style="italic" fill="#2f4f4f" stroke="#fff" stroke-width="0.3">z</text>
<text x="283.0" y="236.4" font-family="'Liberation Serif', serif" font-size="25.3" font-style="italic" fill="#20b2aa" stroke="#fff" stroke-width="0.3">y</text>
<text x="249.0" y="297.0" font-family="'Liberation Serif', serif" font-size="25.3" font-style="italic" fill="#00008b" stroke="#fff" stroke-width="0.3">z</text>
<text x="248.5" y="318.2" font-family="'Liberation Serif', serif" font-size="25.3" font-style="italic" fill="#6495ed" stroke="#fff" stroke-width="0.3">y</text>
<text x="294.5" y="420.4" font-family="'Liberation Serif', serif" font-size="25.3" font-style="italic" fill="#4b0082" stroke="#fff" stroke-width="0.3">z</text>
<text x="294.0" y="437.2" font-family="'Liberation Serif', serif" font-size="25.3" font-style="italic" fill="#ba55d3" stroke="#fff" stroke-width="0.3">y</text>
</svg>
</body></html>
